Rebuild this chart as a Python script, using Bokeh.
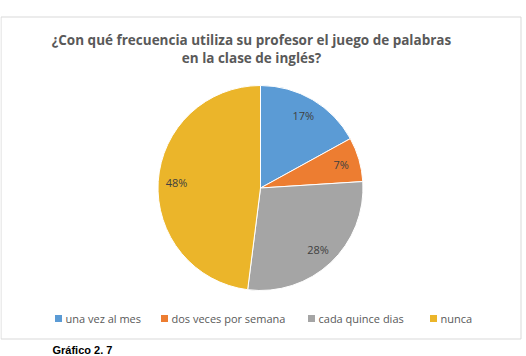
import numpy as np
from bokeh.plotting import figure
from bokeh.models import ColumnDataSource, Range1d
from bokeh.core.properties import value
from bokeh.embed import file_html
from bokeh.resources import INLINE

# Survey answers
categories = ["una vez al mes", "dos veces por semana", "cada quince dias", "nunca"]
shares = [17, 7, 28, 48]
colors = ["#5B9BD5", "#ED7D31", "#A5A5A5", "#EBB52A"]
title_lines = ["¿Con qué frecuencia utiliza su profesor el juego de palabras",
               "en la clase de inglés?"]
caption = "Gráfico 2. 7"

W, H = 526, 356
FONT = "Open Sans"


def yy(v):
    # layout positions are given from the top edge; the data axis points up
    return H - v


p = figure(width=W, height=H, output_backend="svg", toolbar_location=None,
           x_range=Range1d(0, W), y_range=Range1d(0, H), min_border=0)
p.axis.visible = False
p.grid.visible = False
p.outline_line_color = None
p.background_fill_color = "white"
p.border_fill_color = "white"

# chart frame
p.quad(left=[0.5], right=[520.5], top=[yy(16.5)], bottom=[yy(338.5)],
       fill_color=None, line_color="#D9D9D9", line_width=1)

# pie, starting at 12 o'clock and running clockwise
cx, cy, r = 260, yy(187.5), 102.5
vals = np.array(shares, dtype=float)
frac = vals / vals.sum()
ends = np.cumsum(frac)
starts = ends - frac
start_ang = np.pi / 2 - starts * 2 * np.pi
end_ang = np.pi / 2 - ends * 2 * np.pi
mid = (start_ang + end_ang) / 2

src = ColumnDataSource(dict(cat=categories, val=shares, color=colors,
                            sa=start_ang, ea=end_ang,
                            lx=cx + 0.82 * r * np.cos(mid),
                            ly=cy + 0.82 * r * np.sin(mid),
                            lab=[f"{v}%" for v in shares]))
p.wedge(x=cx, y=cy, radius=r, start_angle="sa", end_angle="ea",
        direction="clock", fill_color="color", line_color="white",
        line_width=1, source=src)
p.text(x="lx", y="ly", text="lab", source=src, text_align="center",
       text_baseline="middle", text_font=value(FONT), text_font_size="11px",
       text_color="#404040")

# title
p.text(x=[251, 251], y=[yy(39), yy(57)], text=title_lines, text_align="center",
       text_baseline="middle", text_font=value(FONT), text_font_size="13.5px",
       text_font_style="bold", text_color="#595959")

# legend
leg_x = [58, 164, 311, 433]
leg_y = yy(318)
p.rect(x=leg_x, y=[leg_y] * 4, width=7, height=7, fill_color=colors,
       line_color=None)
p.text(x=[x + 7 for x in leg_x], y=[leg_y] * 4, text=categories,
       text_align="left", text_baseline="middle", text_font=value(FONT),
       text_font_size="11px", text_color="#595959")

# caption below the frame
p.text(x=[52], y=[yy(343)], text=[caption], text_align="left", text_baseline="top",
       text_font=value("Liberation Sans"), text_font_size="11px",
       text_font_style="bold", text_color="#000000")

open("out.html", "w").write(file_html(p, INLINE))
